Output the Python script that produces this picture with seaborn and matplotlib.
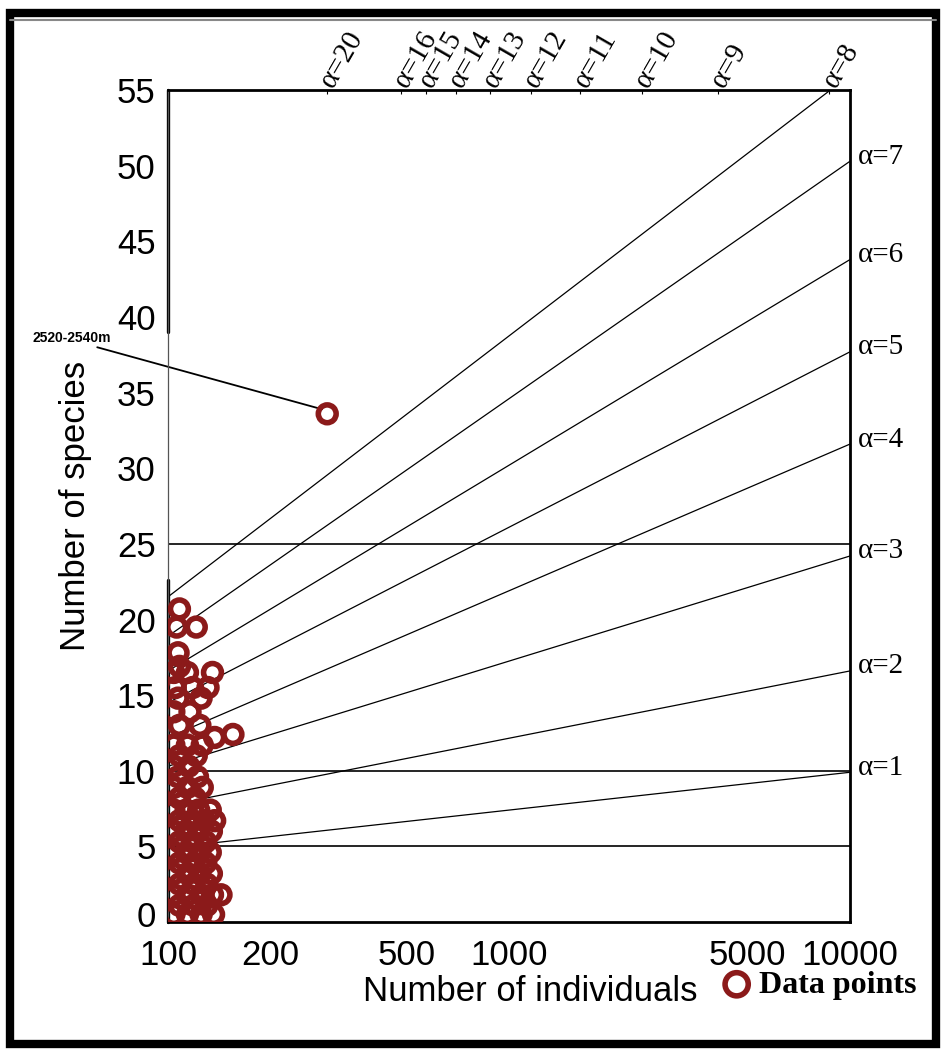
import numpy as np
import pandas as pd
import seaborn as sns
import matplotlib.pyplot as plt
from matplotlib.patches import Rectangle
from matplotlib.lines import Line2D
from matplotlib.ticker import NullLocator, LogLocator
from matplotlib.transforms import ScaledTranslation

# Fisher alpha isolines, read at N=100 and N=10000
alpha_vals = [1, 2, 3, 4, 5, 6, 7, 8]
s_at_100 = [4.9, 7.7, 10.3, 12.2, 14.5, 16.6, 18.9, 21.5]
s_at_10000 = [9.9, 16.6, 24.2, 31.6, 37.7, 43.8, 50.3, 56.0]

# labels along the top edge (where the isolines leave the plot)
top_alpha = [8, 9, 10, 11, 12, 13, 14, 15, 16, 20]
top_alpha_n = [8700, 4100, 2450, 1620, 1160, 880, 700, 572, 482, 293]

# samples: number of individuals / number of species
n_individuals = [293,
                 108, 106, 121, 107, 108, 104, 114, 135, 105, 118, 131, 107, 125,
                 104, 116, 108, 124, 155, 137, 104, 114, 126, 108, 121, 104, 115,
                 107, 122, 104, 114, 126, 108, 120, 104, 113, 123, 133,
                 108, 118, 128, 137, 104, 113, 123, 134, 108, 118, 129,
                 104, 113, 124, 133, 108, 119, 129, 104, 114, 124, 134,
                 108, 119, 130, 104, 114, 125, 135, 143, 108, 119, 130,
                 104, 114, 125, 136]
n_species = [33.6,
             20.7, 19.5, 19.5, 17.8, 16.9, 16.5, 16.5, 16.5, 15.5, 15.5, 15.5, 14.8, 14.8,
             13.9, 13.9, 13.0, 13.0, 12.4, 12.2, 11.7, 11.7, 11.7, 11.0, 11.0, 10.3, 10.3,
             9.6, 9.6, 8.9, 8.9, 8.9, 8.2, 8.2, 7.4, 7.4, 7.4, 7.4,
             6.7, 6.7, 6.7, 6.7, 6.0, 6.0, 6.0, 6.0, 5.3, 5.3, 5.3,
             4.6, 4.6, 4.6, 4.6, 3.9, 3.9, 3.9, 3.2, 3.2, 3.2, 3.2,
             2.5, 2.5, 2.5, 1.8, 1.8, 1.8, 1.8, 1.8, 1.1, 1.1, 1.1,
             0.5, 0.5, 0.5, 0.5]

grid_levels = [5, 10, 25]
x_ticks = [100, 200, 500, 1000, 5000, 10000]
y_ticks = list(range(0, 56, 5))

label_site = "2520-2540m"
label_text_pos = (40, 38.6)
label_line = ([62, 283], [38.0, 33.9])

dark_red = "#8b1a1a"

sns.set_style("white")
plt.rcParams["font.family"] = ["Liberation Sans", "DejaVu Sans"]
plt.rcParams["text.color"] = "black"
plt.rcParams["axes.labelcolor"] = "black"
plt.rcParams["xtick.color"] = "black"
plt.rcParams["ytick.color"] = "black"

fig = plt.figure(figsize=(9.45, 10.53), dpi=100)
ax = fig.add_axes([0.1778, 0.1244, 0.7217, 0.790])

lines = pd.DataFrame({
    "alpha": alpha_vals * 2,
    "N": [100] * len(alpha_vals) + [10000] * len(alpha_vals),
    "S": s_at_100 + s_at_10000,
})
sns.lineplot(data=lines, x="N", y="S", units="alpha", estimator=None,
             color="black", linewidth=0.9, ax=ax, zorder=2)

for lev in grid_levels:
    ax.axhline(lev, color="black", linewidth=1.2, zorder=2)

sns.scatterplot(x=n_individuals, y=n_species, s=165, facecolor="none",
                edgecolor=dark_red, linewidth=4, ax=ax, zorder=3,
                label="Data points")

ax.set_xscale("log")
ax.set_xlim(100, 10000)
ax.set_ylim(0, 55)

ax.set_xticks(x_ticks, labels=[str(t) for t in x_ticks])
ax.xaxis.set_minor_locator(LogLocator(base=10, subs=np.arange(2, 10)))
ax.xaxis.set_minor_formatter(plt.NullFormatter())
ax.set_yticks(y_ticks, labels=[str(t) for t in y_ticks])
ax.tick_params(axis="both", which="major", labelsize=25)
ax.tick_params(axis="x", which="major", direction="out", length=6, width=1.2, pad=6)
ax.tick_params(axis="x", which="minor", direction="in", length=4, width=1)
ax.tick_params(axis="y", which="major", length=0, pad=9)

# lift the "0" label a little so it clears the "100" below it
zero_lbl = ax.get_yticklabels()[0]
zero_lbl.set_transform(zero_lbl.get_transform()
                       + ScaledTranslation(0, 6 / 72, fig.dpi_scale_trans))

ax.set_xlabel("Number of individuals", fontsize=25)
ax.xaxis.set_label_coords(0.531, -0.064)
ax.set_ylabel("Number of species", fontsize=25)
ax.yaxis.set_label_coords(-0.111, 0.5)

for side in ["top", "right", "bottom"]:
    ax.spines[side].set_linewidth(2)
    ax.spines[side].set_color("black")
ax.spines["left"].set_linewidth(0.9)
ax.spines["left"].set_color("#555555")
ax.axvline(100, ymin=0, ymax=22.6 / 55, color="black", linewidth=2.4, clip_on=False)
ax.axvline(100, ymin=39 / 55, ymax=1, color="black", linewidth=2.4, clip_on=False)

# alpha labels on the right
for a, s in zip(alpha_vals[:-1], s_at_10000[:-1]):
    ax.text(1.012, s + 0.3, f"α={a}", transform=ax.get_yaxis_transform(),
            ha="left", va="center", fontsize=21, family="Liberation Serif")

# alpha labels along the top
secax = ax.secondary_xaxis("top")
secax.set_xticks(top_alpha_n, labels=[f"α={a}" for a in top_alpha])
secax.xaxis.set_minor_locator(NullLocator())
secax.tick_params(length=3, direction="in", pad=3)
for lbl in secax.get_xticklabels():
    lbl.set_rotation(60)
    lbl.set_rotation_mode("anchor")
    lbl.set_ha("left")
    lbl.set_va("center")
    lbl.set_family("Liberation Serif")
    lbl.set_fontsize(21)
secax.spines["top"].set_visible(False)

# depth label with leader line
ax.text(*label_text_pos, label_site, fontsize=10, fontweight="bold",
        ha="left", va="center", clip_on=False)
ax.plot(*label_line, color="black", linewidth=1.3, clip_on=False, zorder=2)

ax.legend(loc="center left", bbox_to_anchor=(0.766, 0.0646),
          bbox_transform=fig.transFigure, frameon=False, handlelength=0.8,
          handletextpad=0.3, borderpad=0, borderaxespad=0, markerscale=1.3,
          prop={"family": "Liberation Serif", "weight": "bold", "size": 23})

# outer frame of the figure
fig.add_artist(Rectangle((0.011, 0.009), 0.980, 0.979, transform=fig.transFigure,
                         fill=False, edgecolor="black", linewidth=6))
fig.add_artist(Line2D([0.011, 0.991], [0.981, 0.981], transform=fig.transFigure,
                      color="#888888", linewidth=1.5))

fig.savefig("out.png", dpi=100)
